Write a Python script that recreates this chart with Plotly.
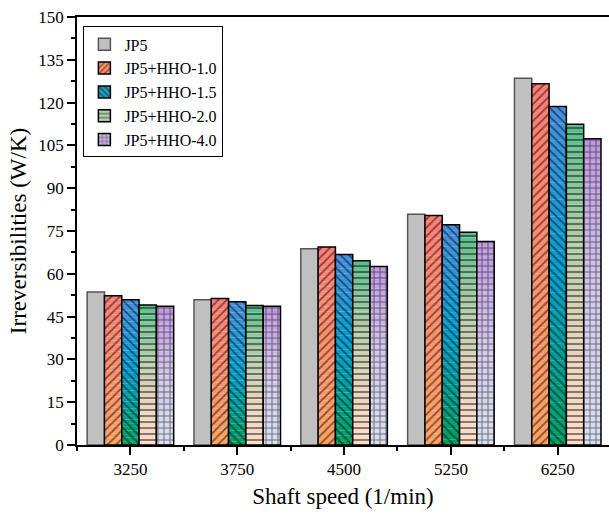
import plotly.graph_objects as go

speeds = ["3250", "3750", "4500", "5250", "6250"]
series_names = ["JP5", "JP5+HHO-1.0", "JP5+HHO-1.5", "JP5+HHO-2.0", "JP5+HHO-4.0"]
jp5 = [53.6, 50.9, 68.8, 80.9, 128.5]
hho10 = [52.3, 51.3, 69.4, 80.4, 126.6]
hho15 = [50.9, 50.2, 66.8, 77.2, 118.6]
hho20 = [49.1, 48.9, 64.6, 74.6, 112.4]
hho40 = [48.6, 48.6, 62.6, 71.3, 107.3]
values = [jp5, hho10, hho15, hho20, hho40]

# gradient stops (bottom -> top) for each series
gradients = [
    None,
    [(0.0, (255, 162, 98)), (1.0, (255, 125, 118))],
    [(0.0, (0, 160, 96)), (0.5, (0, 160, 205)), (1.0, (74, 144, 226))],
    [(0.0, (255, 220, 200)), (0.35, (228, 212, 188)), (0.65, (176, 206, 170)), (1.0, (88, 190, 138))],
    [(0.0, (216, 224, 240)), (0.5, (210, 200, 236)), (1.0, (190, 150, 224))],
]
legend_colors = ["#C0C0C0", "#FF8F6E", "#1E9FC0", "#B8D0B0", "#CBB4E6"]
shapes = ["", "/", "\\", "-", "+"]

def interp(stops, t):
    for (t0, c0), (t1, c1) in zip(stops[:-1], stops[1:]):
        if t0 <= t <= t1:
            f = (t - t0) / (t1 - t0) if t1 > t0 else 0
            return tuple(round(a + (b - a) * f) for a, b in zip(c0, c1))
    return stops[-1][1]

xs = list(range(len(speeds)))
K = 40
fig = go.Figure()
font = "Liberation Serif"

for s, (name, vals) in enumerate(zip(series_names, values)):
    og = str(s)
    if gradients[s] is None:
        fig.add_trace(go.Bar(x=xs, y=vals, name=name, offsetgroup=og,
                             marker=dict(color="#C0C0C0", line=dict(color="#555555", width=1.5)),
                             showlegend=True))
        continue
    for k in range(K):
        t = (k + 0.5) / K
        c = interp(gradients[s], t)
        col = "rgb(%d,%d,%d)" % c
        fig.add_trace(go.Bar(x=xs, y=[v / K * 1.02 for v in vals], base=[v * k / K for v in vals],
                             offsetgroup=og, showlegend=False, hoverinfo="skip",
                             marker=dict(color=col, line=dict(width=0))))
    # pattern + outline overlay
    fig.add_trace(go.Bar(x=xs, y=vals, offsetgroup=og, showlegend=False,
                         marker=dict(color="rgba(0,0,0,0)",
                                     line=dict(color="black", width=1.5),
                                     pattern=dict(shape=shapes[s], fgcolor="black",
                                                  bgcolor="rgba(0,0,0,0)", size=6, solidity=0.3))))
    # legend entry
    fig.add_trace(go.Bar(x=xs, y=[None] * len(xs), name=name, offsetgroup=og, showlegend=True,
                         marker=dict(color=legend_colors[s], line=dict(color="black", width=1.5),
                                     pattern=dict(shape=shapes[s], fgcolor="black", size=5, solidity=0.3))))

fig.update_layout(
    width=609, height=515,
    margin=dict(l=77, r=0, t=17, b=70),
    barmode="group", bargap=0.19, bargroupgap=0,
    plot_bgcolor="white", paper_bgcolor="white",
    font=dict(family=font, size=17, color="black"),
    legend=dict(x=0.012, y=0.978, xanchor="left", yanchor="top",
                bordercolor="black", borderwidth=1, bgcolor="white",
                font=dict(family=font, size=16), tracegroupgap=0, itemwidth=30),
    xaxis=dict(range=[-0.5, 4.48], tickvals=xs, ticktext=speeds,
               showline=True, linecolor="black", linewidth=1.5, mirror=True,
               ticks="outside", ticklen=8, tickwidth=1.5, tickcolor="black",
               minor=dict(tick0=0.5, dtick=1, ticks="outside", ticklen=4, tickwidth=1.5, tickcolor="black"),
               showgrid=False, zeroline=False,
               title=dict(text="Shaft speed (1/min)", font=dict(family=font, size=23), standoff=10),
               tickfont=dict(family=font, size=17)),
    yaxis=dict(range=[0, 150], dtick=15, tick0=0,
               showline=True, linecolor="black", linewidth=1.5,
               ticks="outside", ticklen=8, tickwidth=1.5, tickcolor="black",
               minor=dict(dtick=7.5, ticks="outside", ticklen=4, tickwidth=1.5, tickcolor="black"),
               showgrid=False, zeroline=False,
               title=dict(text="Irreversibilities (W/K)", font=dict(family=font, size=23), standoff=5),
               tickfont=dict(family=font, size=17)),
)

fig.write_html("out.html")
